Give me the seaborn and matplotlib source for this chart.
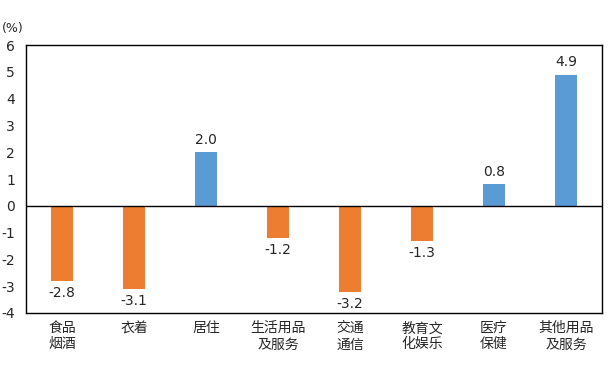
import matplotlib
matplotlib.use("Agg")
import matplotlib.pyplot as plt
import seaborn as sns
import pandas as pd

categories = ["食品\n烟酒", "衣着", "居住", "生活用品\n及服务", "交通\n通信", "教育文\n化娱乐", "医疗\n保健", "其他用品\n及服务"]
values = [-2.8, -3.1, 2.0, -1.2, -3.2, -1.3, 0.8, 4.9]
yticks = [-4, -3, -2, -1, 0, 1, 2, 3, 4, 5, 6]

sns.set_theme(style="white")
plt.rcParams['font.family'] = ['Noto Sans CJK SC', 'DejaVu Sans']
plt.rcParams['axes.unicode_minus'] = False

df = pd.DataFrame({"cat": categories, "val": values,
                   "sign": ["pos" if v >= 0 else "neg" for v in values]})

fig = plt.figure(figsize=(6.11, 3.73), dpi=100)
ax = fig.add_axes([0.0426, 0.161, 0.9426, 0.718])
sns.barplot(data=df, x="cat", y="val", hue="sign",
            palette={"pos": "#5B9BD5", "neg": "#ED7D31"}, saturation=1,
            width=0.3, dodge=False, legend=False, ax=ax, linewidth=0)
ax.set_ylim(-4, 6)
ax.set_xlim(-0.5, len(categories) - 0.5)
ax.set_yticks(yticks)
ax.set_yticklabels([str(t) for t in yticks], fontsize=10, family='DejaVu Sans')
ax.set_xticks(range(len(categories)))
ax.set_xticklabels(categories, fontsize=10)
ax.tick_params(axis='x', length=0, pad=6)
ax.tick_params(axis='y', length=0, pad=8)
ax.set_xlabel("")
ax.set_ylabel("")
ax.axhline(0, color="black", lw=1)
for s in ax.spines.values():
    s.set_visible(True)
    s.set_color("black")
    s.set_linewidth(1)
for i, v in enumerate(values):
    if v >= 0:
        ax.text(i, v + 0.2, f"{v:.1f}", ha="center", va="bottom", fontsize=10, family='DejaVu Sans')
    else:
        ax.text(i, v - 0.2, f"{v:.1f}", ha="center", va="top", fontsize=10, family='DejaVu Sans')
fig.text(0.003, 0.905, "(%)", fontsize=9, family='DejaVu Sans', ha="left", va="bottom")
fig.savefig("out.png", dpi=100)
